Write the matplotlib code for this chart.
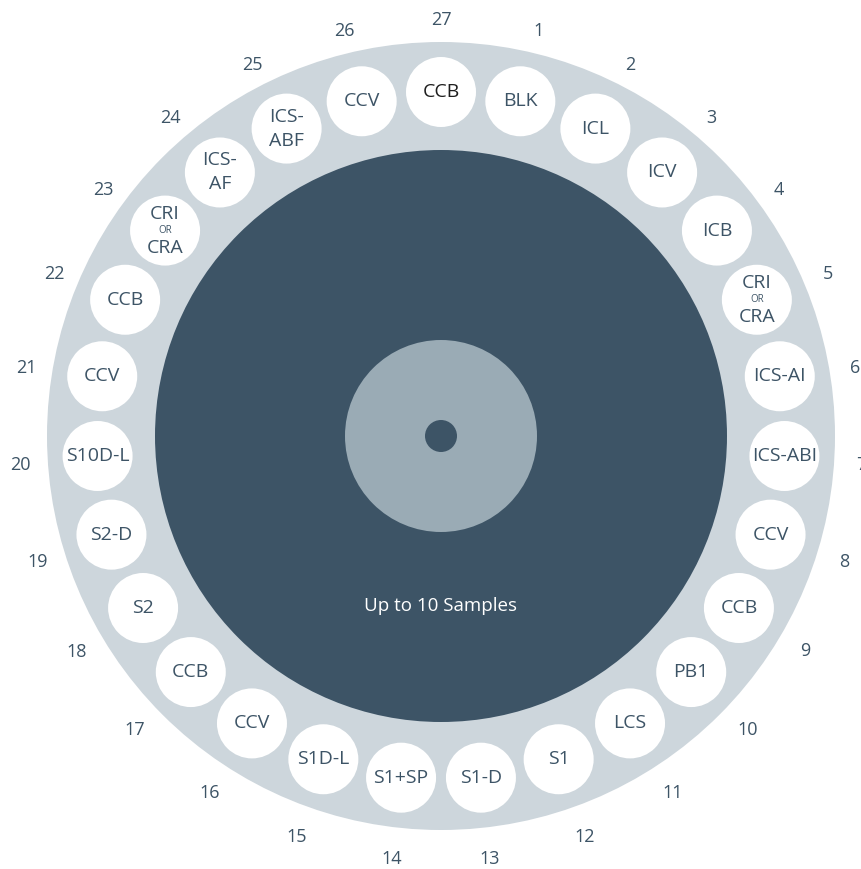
import numpy as np
import matplotlib.pyplot as plt
from matplotlib.patches import Circle

# ------------------------------------------
# data: carousel positions and their contents
# ------------------------------------------
positions = list(range(1, 28))
contents = ["BLK", "ICL", "ICV", "ICB", "CRI|OR|CRA", "ICS-AI", "ICS-ABI",
            "CCV", "CCB", "PB1", "LCS", "S1", "S1-D", "S1+SP", "S1D-L",
            "CCV", "CCB", "S2", "S2-D", "S10D-L", "CCV", "CCB", "CRI|OR|CRA",
            "ICS-|AF", "ICS-|ABF", "CCV", "CCB"]
center_text = "Up to 10 Samples"

# ------------------------------------------
# style
# ------------------------------------------
plt.rcParams['font.family'] = ['Open Sans', 'DejaVu Sans']
ring_col = "#cdd6dc"
dark_col = "#3d5466"
light_col = "#9aabb5"
txt_col = "#3d5466"

cx, cy = 441, 436
r_outer, r_dark, r_light, r_dot = 394, 286, 96, 16
r_slot, slot_size, r_num = 344, 35, 421
step = 360 / len(positions)

fig = plt.figure(figsize=(8.61, 8.69), dpi=100)
ax = fig.add_axes([0, 0, 1, 1])
ax.set_xlim(0, 861)
ax.set_ylim(869, 0)
ax.set_aspect("equal")
ax.axis("off")

ax.add_patch(Circle((cx, cy), r_outer, color=ring_col, lw=0))
ax.add_patch(Circle((cx, cy), r_dark, color=dark_col, lw=0))
ax.add_patch(Circle((cx, cy), r_light, color=light_col, lw=0))
ax.add_patch(Circle((cx, cy), r_dot, color=dark_col, lw=0))
ax.text(cx, cy + 170, center_text, color="white", fontsize=13.5,
        ha="center", va="center")

for k, lab in zip(positions, contents):
    a = np.radians(k * step)
    x, y = cx + r_slot * np.sin(a), cy - r_slot * np.cos(a)
    ax.add_patch(Circle((x, y), slot_size, color="white", lw=0))
    col = "#1e1e1e" if k == 27 else txt_col
    parts = lab.split("|")
    if len(parts) == 3:
        ax.text(x, y - 17, parts[0], color=col, fontsize=14, ha="center", va="center")
        ax.text(x, y, parts[1], color=col, fontsize=7, ha="center", va="center")
        ax.text(x, y + 17, parts[2], color=col, fontsize=14, ha="center", va="center")
    elif len(parts) == 2:
        ax.text(x, y - 12, parts[0], color=col, fontsize=14, ha="center", va="center")
        ax.text(x, y + 12, parts[1], color=col, fontsize=14, ha="center", va="center")
    else:
        ax.text(x, y, lab, color=col, fontsize=14, ha="center", va="center")
    # number labels sit a little lower than the ring centre
    xn, yn = cx + r_num * np.sin(a), cy + 5 - r_num * np.cos(a)
    ax.text(xn, yn, str(k), color=txt_col, fontsize=13, ha="center", va="center")

plt.savefig("out.png", dpi=100)
